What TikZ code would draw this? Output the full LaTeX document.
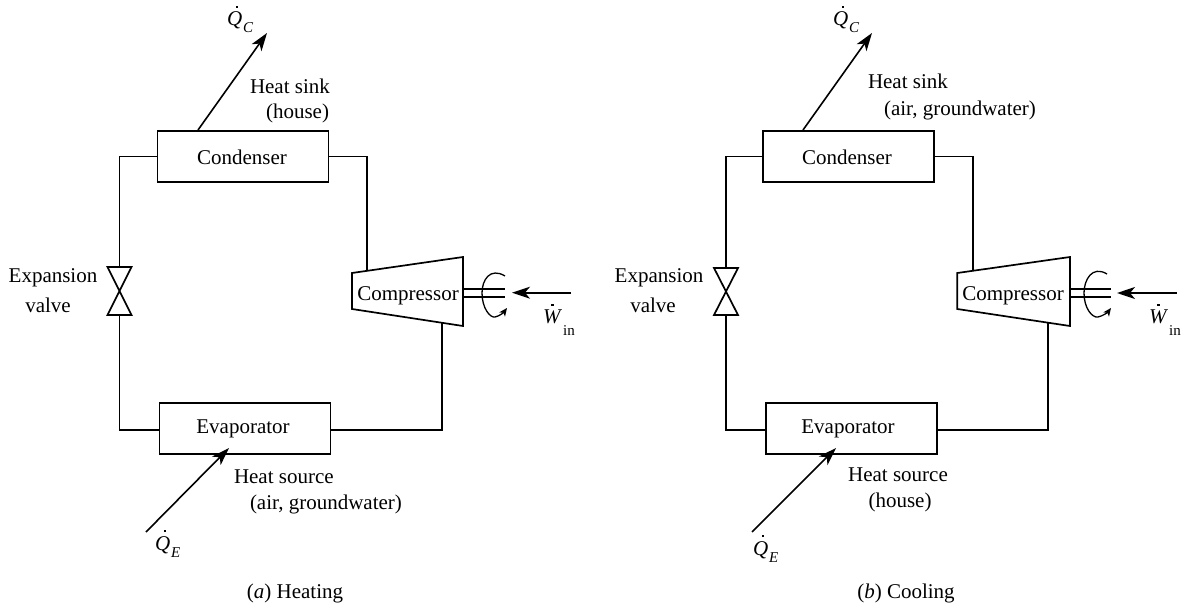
\documentclass[tikz,border=0pt]{standalone}
\usepackage{fontspec}
\setmainfont{Liberation Serif}
\usetikzlibrary{arrows.meta}
\newsavebox{\dotbox}
% letter with a dot over it: #1 letter, #2 shift of the dot to the right, #3 height of the dot
\newcommand{\dotover}[3]{\sbox{\dotbox}{\textit{#1}}\rlap{\hbox to \wd\dotbox{\hss\hspace{#2}\rule[#3]{2.4pt}{2.4pt}\hss}}\usebox{\dotbox}}
\newcommand{\dotsym}[2]{\dotover{#1}{5pt}{18pt}\raisebox{-7pt}{\fontsize{15}{15}\selectfont\hspace{1pt}\textit{#2}}}
\newcommand{\wdot}{\dotover{W}{0pt}{17pt}\raisebox{-12pt}{\fontsize{15}{15}\selectfont\hspace{1pt}in}}
\tikzset{
  x=1pt,y=-1pt,
  every node/.style={font=\fontsize{21}{25}\selectfont,inner sep=0pt,outer sep=0pt},
  line/.style={line width=1.7pt,line join=miter},
  unit/.style={draw,line width=1.7pt,minimum width=171pt,minimum height=51pt},
  heat/.style={line width=1.6pt,-{Stealth[length=18pt,width=12pt,inset=5pt]}},
  rot/.style={line width=1.3pt,-{Stealth[length=8pt,width=7pt,inset=2pt]}},
  lbl/.style={anchor=center}
}
\begin{document}
\begin{tikzpicture}
\useasboundingbox (0,0) rectangle (1185,607);
\fill[white] (0,0) rectangle (1185,607);

% ---------- (a) Heating
\node[unit] (acond) at (243,156.5) {};
\node[lbl] at (242,157) (acondt) {Condenser};
\node[unit] (aevap) at (245,428.5) {};
\node[lbl] at (243,429) (aevapt) {Evaporator};
\coordinate (avt) at (119.5,267);
\coordinate (avb) at (119.5,315);
\coordinate (acompt) at (366.7,271);
\coordinate (acompb) at (441.7,323);
\draw[line] (352,273) -- (463,257) -- (463,326) -- (352,309) -- cycle;
\node[lbl] (acompx) at (408,296) {Compressor};
\draw[line] (avt) ++(-12,0) -- ++(24,0) -- (119.5-12,315) -- ++(24,0) -- cycle;
\draw[line] (acond.west) -| (avt);
\draw[line] (acond.east) -| (acompt);
\draw[line] ([yshift=-1.5pt]aevap.west) -| (avb);
\draw[line] ([yshift=-1.5pt]aevap.east) -| (acompb);
\coordinate (ashA) at (463,289.3);
\coordinate (ashB) at (463,297.3);
\draw[line] (ashA) -- (505,289.3);
\draw[line] (ashB) -- (505,297.3);
\draw[rot] (505,276) .. controls (490,267) and (482,280) .. (482,293) .. controls (482,308) and (490,318) .. (495,317) .. controls (500,316) and (504,312) .. (507,308);
\coordinate (awin) at (571,292.7);
\coordinate (awout) at (512,292.7);
\draw[heat] (awin) -- (awout);
\node[anchor=base west] (aw) at (543,323) {\wdot};
\coordinate (aqcs) at (198,130);
\coordinate (aqce) at (267,33);
\draw[heat] (aqcs) -- (aqce);
\node[anchor=base west] (aqc) at (227,26) {\dotsym{Q}{C}};
\coordinate (aqes) at (146,532);
\coordinate (aqee) at (229,448);
\draw[heat] (aqes) -- (aqee);
\node[anchor=base west] (aqe) at (155,550) {\dotsym{Q}{E}};
\node[anchor=west] (asink) at (250,86) {Heat sink};
\node[anchor=east] (asink2) at (329,113) {(house)};
\node[anchor=west] (asrc) at (234,477) {Heat source};
\node[anchor=west] (asrc2) at (250,504) {(air, groundwater)};
\node[lbl] (aexp) at (53,278) {Expansion};
\node[lbl] (aval) at (48,305) {valve};
\node[lbl] (acap) at (295,593) {(\textit{a}) Heating};

% ---------- (b) Cooling
\node[unit] (bcond) at (848.5,156.5) {};
\node[lbl] at (847,157) (bcondt) {Condenser};
\node[unit] (bevap) at (851.5,428.5) {};
\node[lbl] at (848,429) (bevapt) {Evaporator};
\coordinate (bvt) at (726,268);
\coordinate (bvb) at (726,315);
\coordinate (bcompt) at (972.7,271);
\coordinate (bcompb) at (1047.7,323);
\draw[line] (957.3,273) -- (1070,257) -- (1070,326) -- (957.3,309) -- cycle;
\node[lbl] (bcompx) at (1013,296) {Compressor};
\draw[line] (bvt) ++(-12,0) -- ++(24,0) -- (726-12,315) -- ++(24,0) -- cycle;
\draw[line] (bcond.west) -| (bvt);
\draw[line] (bcond.east) -| (bcompt);
\draw[line] ([yshift=-1.5pt]bevap.west) -| (bvb);
\draw[line] ([yshift=-1.5pt]bevap.east) -| (bcompb);
\coordinate (bshA) at (1070,289);
\coordinate (bshB) at (1070,297);
\draw[line] (bshA) -- (1110.7,289);
\draw[line] (bshB) -- (1110.7,297);
\draw[rot] (1107,274) .. controls (1092,265) and (1084,280) .. (1084,293) .. controls (1084,308) and (1092,318) .. (1098,317) .. controls (1103,316) and (1108,312) .. (1111,308);
\coordinate (bwin) at (1176.7,293);
\coordinate (bwout) at (1117,293);
\draw[heat] (bwin) -- (bwout);
\node[anchor=base west] (bw) at (1149,323) {\wdot};
\coordinate (bqcs) at (803,130);
\coordinate (bqce) at (872,33);
\draw[heat] (bqcs) -- (bqce);
\node[anchor=base west] (bqc) at (833,26) {\dotsym{Q}{C}};
\coordinate (bqes) at (752,532);
\coordinate (bqee) at (836,448);
\draw[heat] (bqes) -- (bqee);
\node[anchor=base west] (bqe) at (753,555) {\dotsym{Q}{E}};
\node[anchor=west] (bsink) at (868,81) {Heat sink};
\node[anchor=west] (bsink2) at (884,110) {(air, groundwater)};
\node[lbl] (bsrc) at (898,475) {Heat source};
\node[lbl] (bsrc2) at (900,502) {(house)};
\node[lbl] (bexp) at (659,278) {Expansion};
\node[lbl] (bval) at (653,305) {valve};
\node[lbl] (bcap) at (906,593) {(\textit{b}) Cooling};
\end{tikzpicture}
\end{document}
